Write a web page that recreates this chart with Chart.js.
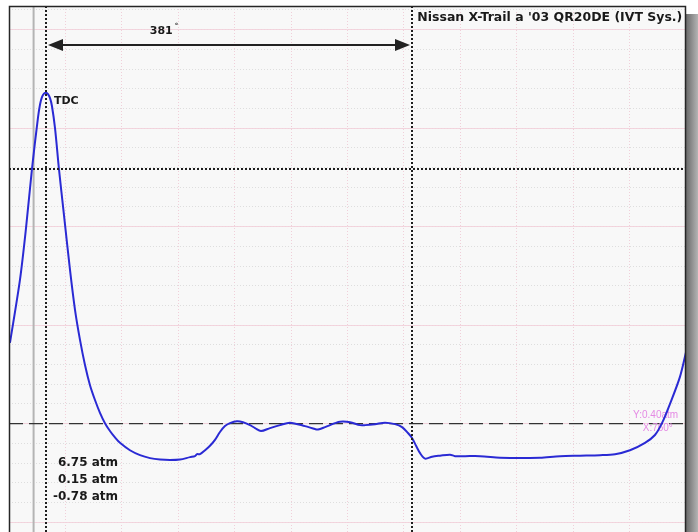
<!DOCTYPE html>
<html>
<head>
<meta charset="utf-8">
<script src="https://cdn.jsdelivr.net/npm/chart.js@4.4.1/dist/chart.umd.min.js"></script>
<style>
  html, body { margin: 0; padding: 0; background: #fff; }
  #wrap { width: 698px; height: 532px; }
</style>
</head>
<body>
<div id="wrap"><canvas id="pressureChart" width="698" height="532"></canvas></div>
<script>
// crank angle (deg from TDC) and cylinder pressure (atm)
const crankDeg = [-37.5, -27.1, -20.8, -14.6, -8.3, -6.2, -4.2, -2.1, 0, 2.1, 4.2, 6.2, 9.4, 13.5, 18.7, 25.0, 30.2, 35.4,
    40.6, 45.8, 51.0, 56.2, 61.4, 66.6, 71.8, 77.0, 87.4, 97.9, 108.3, 118.7, 129.1, 139.5, 149.9, 155.1,
    157.2, 160.3, 165.5, 170.7, 175.9, 181.1, 186.3, 191.5, 198.8, 205.1, 212.4, 217.6, 223.8, 233.2,
    243.6, 254.0, 269.6, 280.0, 283.2, 290.5, 300.9, 306.1, 316.5, 326.9, 332.1, 342.5, 352.9, 363.3,
    370.6, 376.8, 381.0, 385.2, 389.4, 394.6, 401.9, 410.2, 420.6, 425.8, 436.2, 451.8, 472.6, 493.4,
    514.3, 535.1, 555.9, 576.7, 592.3, 607.9, 623.5, 633.9, 641.2, 649.5, 659.9, 666.2];
const pressureAtm = [1.64, 2.92, 3.97, 5.17, 6.22, 6.48, 6.63, 6.70, 6.72, 6.69, 6.61, 6.45, 6.00, 5.17, 4.24, 3.12, 2.31, 1.70,
    1.19, 0.78, 0.48, 0.22, 0.01, -0.15, -0.28, -0.39, -0.54, -0.64, -0.70, -0.73, -0.74, -0.73, -0.68, -0.66,
    -0.62, -0.62, -0.54, -0.45, -0.33, -0.17, -0.05, 0.01, 0.05, 0.03, -0.03, -0.09, -0.15, -0.09,
    -0.03, 0.02, -0.05, -0.11, -0.12, -0.07, 0.01, 0.04, 0.03, -0.03, -0.03, -0.01, 0.02, -0.01,
    -0.07, -0.19, -0.29, -0.45, -0.60, -0.71, -0.67, -0.65, -0.63, -0.66, -0.66, -0.66, -0.69, -0.70,
    -0.69, -0.66, -0.65, -0.64, -0.62, -0.54, -0.39, -0.23, 0.01, 0.40, 0.95, 1.45];

const xRange = [-38.5, 666.2];
const yRange = [-2.2, 8.48];
const xDivisions = 12;
const yMinorStep = 0.4;
const yMajorStep = 2;

// scope cursors and readouts
const cursorDeg = [0, 381];
const cursorAtm = 5.17;
const refLineDeg = -12.9;
const spanLabel = '381';
const titleText = "Nissan X-Trail a '03 QR20DE (IVT Sys.)";
const readings = ['6.75 atm', '0.15 atm', '-0.78 atm'];
const cursorReadout = ['Y:0.40atm', 'X:760°'];

const points = crankDeg.map((d, i) => ({ x: d, y: pressureAtm[i] }));

function stepTicks(min, max, step) {
    const out = [];
    for (let v = Math.ceil(min / step) * step; v <= max + 1e-9; v += step) {
        out.push({ value: +v.toFixed(4) });
    }
    return out;
}

const labelFont = 'bold 11px "DejaVu Sans", sans-serif';

const scopeDecor = {
    id: 'scopeDecor',
    beforeDraw(chart) {
        const { ctx, chartArea: a } = chart;
        ctx.save();
        ctx.fillStyle = '#ffffff';
        ctx.fillRect(0, 0, chart.width, chart.height);
        // drop shadow on the right
        const g = ctx.createLinearGradient(a.right, 0, chart.width, 0);
        g.addColorStop(0, '#6a6a6a');
        g.addColorStop(1, '#b4b4b4');
        ctx.fillStyle = g;
        ctx.fillRect(a.right, a.top + 8, chart.width - a.right, chart.height);
        ctx.fillStyle = '#f8f8f8';
        ctx.fillRect(a.left, a.top, a.right - a.left, a.bottom - a.top);
        ctx.restore();
    },
    beforeDatasetsDraw(chart) {
        const { ctx, chartArea: a, scales: { x, y } } = chart;
        ctx.save();
        // grey reference line
        ctx.strokeStyle = '#b4b4b4';
        ctx.lineWidth = 2;
        ctx.beginPath();
        ctx.moveTo(x.getPixelForValue(refLineDeg), a.top);
        ctx.lineTo(x.getPixelForValue(refLineDeg), a.bottom);
        ctx.stroke();
        // zero line (dashed)
        ctx.strokeStyle = '#333333';
        ctx.lineWidth = 1.4;
        ctx.setLineDash([14, 6]);
        ctx.beginPath();
        ctx.moveTo(a.left, y.getPixelForValue(0));
        ctx.lineTo(a.right, y.getPixelForValue(0));
        ctx.stroke();
        ctx.setLineDash([]);
        // pink cursor readout
        ctx.fillStyle = '#e48ae4';
        ctx.font = '10px "Liberation Sans", Arial, sans-serif';
        ctx.textAlign = 'right';
        ctx.textBaseline = 'middle';
        ctx.fillText(cursorReadout[0], x.getPixelForValue(658), y.getPixelForValue(0.17));
        ctx.fillText(cursorReadout[1], x.getPixelForValue(652.5), y.getPixelForValue(-0.1));
        ctx.restore();
    },
    afterDatasetsDraw(chart) {
        const { ctx, chartArea: a, scales: { x, y } } = chart;
        ctx.save();
        ctx.strokeStyle = '#1e1e1e';
        ctx.lineWidth = 2;
        ctx.setLineDash([2, 2]);
        cursorDeg.forEach(d => {
            const px = Math.round(x.getPixelForValue(d));
            ctx.beginPath();
            ctx.moveTo(px, a.top);
            ctx.lineTo(px, a.bottom);
            ctx.stroke();
        });
        const py = Math.round(y.getPixelForValue(cursorAtm));
        ctx.beginPath();
        ctx.moveTo(a.left, py);
        ctx.lineTo(a.right, py);
        ctx.stroke();
        ctx.setLineDash([]);

        // span arrow between the cursors
        const x0 = x.getPixelForValue(cursorDeg[0]) + 2;
        const x1 = x.getPixelForValue(cursorDeg[1]) - 2;
        const ay = y.getPixelForValue(7.69);
        ctx.strokeStyle = '#222';
        ctx.fillStyle = '#222';
        ctx.lineWidth = 2;
        ctx.beginPath();
        ctx.moveTo(x0 + 10, ay);
        ctx.lineTo(x1 - 10, ay);
        ctx.stroke();
        ctx.beginPath();
        ctx.moveTo(x0, ay);
        ctx.lineTo(x0 + 15, ay - 6);
        ctx.lineTo(x0 + 15, ay + 6);
        ctx.closePath();
        ctx.fill();
        ctx.beginPath();
        ctx.moveTo(x1, ay);
        ctx.lineTo(x1 - 15, ay - 6);
        ctx.lineTo(x1 - 15, ay + 6);
        ctx.closePath();
        ctx.fill();

        // texts
        ctx.fillStyle = '#1a1a1a';
        ctx.font = labelFont;
        ctx.textBaseline = 'middle';
        ctx.textAlign = 'left';
        const sx = x.getPixelForValue(108);
        const sy = y.getPixelForValue(7.97);
        ctx.fillText(spanLabel, sx, sy);
        const sw = ctx.measureText(spanLabel).width;
        ctx.font = 'bold 7px "DejaVu Sans", sans-serif';
        ctx.fillText('°', sx + sw + 2, sy - 5);
        ctx.font = labelFont;
        ctx.fillText('TDC', x.getPixelForValue(8.3), y.getPixelForValue(6.55));
        ctx.font = 'bold 12.5px "DejaVu Sans", sans-serif';
        ctx.fillText(titleText, x.getPixelForValue(386.5), y.getPixelForValue(8.24), 265);
        ctx.font = 'bold 12px "DejaVu Sans", sans-serif';
        ctx.textAlign = 'right';
        const readY = [-0.80, -1.15, -1.49];
        readings.forEach((t, i) => {
            ctx.fillText(t, x.getPixelForValue(75), y.getPixelForValue(readY[i]));
        });

        // frame
        ctx.strokeStyle = '#262626';
        ctx.lineWidth = 1.5;
        ctx.strokeRect(a.left + 0.5, a.top + 0.5, a.right - a.left - 1, a.bottom - a.top + 4);
        ctx.restore();
    }
};

const ctx = document.getElementById('pressureChart').getContext('2d');
const pressureChart = new Chart(ctx, {
    type: 'line',
    data: {
        datasets: [{
            label: 'Cylinder pressure',
            data: points,
            borderColor: '#2a2ad4',
            borderWidth: 2,
            pointRadius: 0,
            tension: 0.3,
            fill: false,
            xAxisID: 'x',
            yAxisID: 'y'
        }]
    },
    options: {
        responsive: false,
        animation: false,
        layout: { padding: { left: 9, right: 12, top: 6, bottom: 0 } },
        plugins: { legend: { display: false }, tooltip: { enabled: false } },
        scales: {
            x: {
                type: 'linear',
                min: xRange[0],
                max: xRange[1],
                afterBuildTicks: s => {
                    const step = (xRange[1] - xRange[0]) / xDivisions;
                    s.ticks = [];
                    for (let i = 1; i < xDivisions; i++) s.ticks.push({ value: xRange[0] + i * step });
                },
                afterFit: s => { s.height = 0; },
                ticks: { display: false },
                border: { display: false, dash: [1, 2] },
                grid: { color: 'rgba(238,200,212,0.85)', lineWidth: 1, drawTicks: false }
            },
            y: {
                type: 'linear',
                min: yRange[0],
                max: yRange[1],
                afterBuildTicks: s => { s.ticks = stepTicks(yRange[0], yRange[1], yMinorStep); },
                afterFit: s => { s.width = 0; },
                ticks: { display: false },
                border: { display: false, dash: [1, 2] },
                grid: { color: '#dedede', lineWidth: 1, drawTicks: false }
            },
            yMajor: {
                type: 'linear',
                position: 'right',
                min: yRange[0],
                max: yRange[1],
                afterBuildTicks: s => { s.ticks = stepTicks(yRange[0], yRange[1], yMajorStep); },
                afterFit: s => { s.width = 0; },
                ticks: { display: false },
                border: { display: false },
                grid: { color: 'rgba(242,208,218,0.9)', lineWidth: 1, drawTicks: false }
            }
        }
    },
    plugins: [scopeDecor]
});
</script>
</body>
</html>
